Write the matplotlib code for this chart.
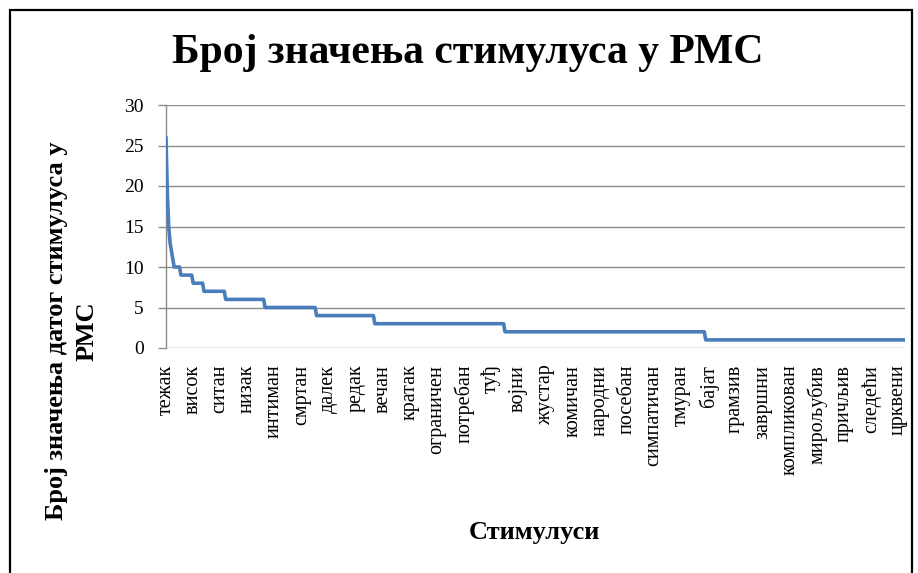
import numpy as np
import matplotlib
matplotlib.use('Agg')
import matplotlib.pyplot as plt
from matplotlib.patches import Rectangle

# Број значења по стимулусу (табела учесталости: вредност -> број стимулуса)
znacenja = [26, 19, 15, 13, 12, 11, 10, 9, 8, 7, 6, 5, 4, 3, 2, 1]
broj_stimulusa = [1, 1, 1, 1, 1, 1, 5, 9, 8, 16, 29, 38, 43, 96, 148, 148]

# Ознаке које се виде на категоријској оси (свака 20. реч)
oznake = ['тежак', 'висок', 'ситан', 'низак', 'интиман', 'смртан', 'далек',
          'редак', 'вечан', 'кратак', 'ограничен', 'потребан', 'туђ', 'војни',
          'жустар', 'комичан', 'народни', 'посебан', 'симпатичан', 'тмуран',
          'бајат', 'грамзив', 'завршни', 'компликован', 'мирољубив', 'причљив',
          'следећи', 'црквени']
korak_oznaka = 20

vrednosti = np.repeat(znacenja, broj_stimulusa)
n = len(vrednosti)
x = np.arange(n)

plt.rcParams['font.family'] = ['Liberation Serif', 'DejaVu Serif']

fig = plt.figure(figsize=(9.18, 5.73), dpi=100)
ax = fig.add_axes([166/918, 1 - 348/573, (905 - 166)/918, (348 - 105)/573])

ax.plot(x, vrednosti, color='#4A7EBB', linewidth=2.6, solid_joinstyle='round',
        solid_capstyle='round', zorder=3)

ax.set_xlim(0, n - 1)
ax.set_ylim(0, 30)
ax.set_yticks(range(0, 31, 5))
ax.yaxis.grid(True, color='#8c8c8c', linewidth=1.0)
ax.set_axisbelow(True)

poz = np.arange(0, n, korak_oznaka)[:len(oznake)]
ax.set_xticks(poz)
ax.set_xticklabels(oznake, rotation=90, fontsize=14.5, va='top', ha='center')
ax.tick_params(axis='x', length=0, pad=12)
ax.tick_params(axis='y', length=6, width=1, color='#8c8c8c', labelsize=14, pad=10)

for s in ['top', 'right', 'bottom']:
    ax.spines[s].set_visible(False)
ax.spines['left'].set_color('#8c8c8c')
ax.spines['left'].set_linewidth(1.0)

fig.text(468/918, 1 - 53/573, 'Број значења стимулуса у РМС', ha='center',
         va='center', fontsize=30, fontweight='bold')
fig.text(72/918, 1 - 331/573, 'Број значења датог стимулуса у\nРМС',
         ha='center', va='center', rotation=90, fontsize=19, fontweight='bold',
         linespacing=1.4)
fig.text(534/918, 1 - 533/573, 'Стимулуси', ha='center', va='center',
         fontsize=19, fontweight='bold')

# оквир графикона
fig.patches.append(Rectangle((10/918, -0.05), (912 - 10)/918, 1.05 - 10/573,
                             transform=fig.transFigure, fill=False,
                             edgecolor='black', linewidth=1.6))

fig.savefig('out.png', dpi=100)
